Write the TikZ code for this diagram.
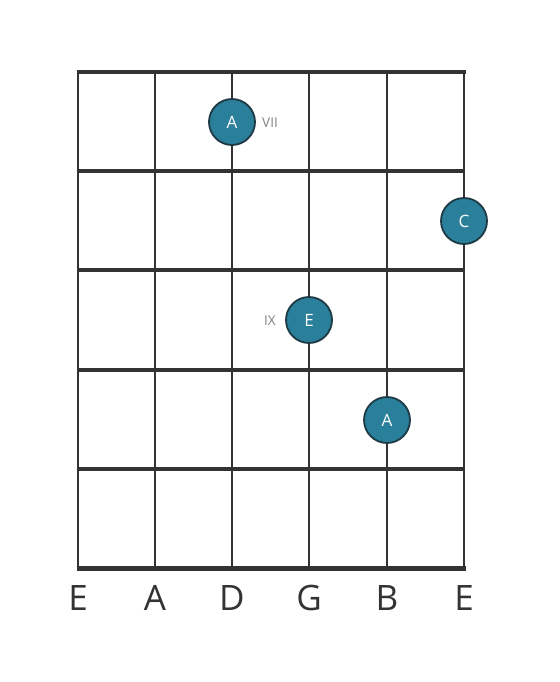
\documentclass[tikz,border=0pt]{standalone}
\usepackage{fontspec}
\setmainfont{Open Sans}
\definecolor{linec}{HTML}{333333}
\definecolor{dotfill}{HTML}{2A7F9A}
\definecolor{dotline}{HTML}{1E3A44}
\definecolor{labc}{HTML}{808080}
\begin{document}
\begin{tikzpicture}[x=1pt,y=-1pt,
  stringline/.style={draw=linec,line width=2.8pt},
  fretline/.style={draw=linec,line width=4.2pt},
  dot/.style={circle,fill=dotfill,draw=dotline,line width=1.8pt,minimum size=46pt,inner sep=0pt,text=white,font=\fontsize{17}{17}\selectfont},
  fretlab/.style={text=labc,font=\fontsize{13.5}{13.5}\selectfont,inner sep=0pt},
  strlab/.style={text=linec,font=\fontsize{35}{35}\selectfont,inner sep=0pt}]
\useasboundingbox (0,0) rectangle (559,682);
% strings
\foreach \x/\n in {78/s1,155/s2,232/s3,309/s4,387/s5,464/s6}{
  \coordinate (\n t) at (\x,72);
  \coordinate (\n b) at (\x,568);
  \draw[stringline] (\n t) -- (\n b);
}
% frets
\foreach \y/\n in {171/f1,270/f2,370/f3,469/f4}{
  \coordinate (\n l) at (78,\y);
  \coordinate (\n r) at (464,\y);
  \draw[fretline] (\n l) -- (\n r);
}
\coordinate (f0l) at (76.5,72); \coordinate (f0r) at (465.5,72);
\draw[fretline,line width=4.6pt] (f0l) -- (f0r);
\coordinate (f5l) at (76.5,568); \coordinate (f5r) at (465.5,568);
\draw[fretline,line width=5pt] (f5l) -- (f5r);
% dots
\node[dot] (d1) at (232,122) {A};
\node[dot] (d2) at (464,221) {C};
\node[dot] (d3) at (309,320) {E};
\node[dot] (d4) at (387,420) {A};
\node[fretlab] (vii) at (270,123) {VII};
\node[fretlab] (ix) at (270,321) {IX};
% string labels
\node[strlab] (l1) at (78,598) {E};
\node[strlab] (l2) at (155,598) {A};
\node[strlab] (l3) at (232,598) {D};
\node[strlab] (l4) at (309,598) {G};
\node[strlab] (l5) at (387,598) {B};
\node[strlab] (l6) at (464,598) {E};
\end{tikzpicture}
\end{document}
